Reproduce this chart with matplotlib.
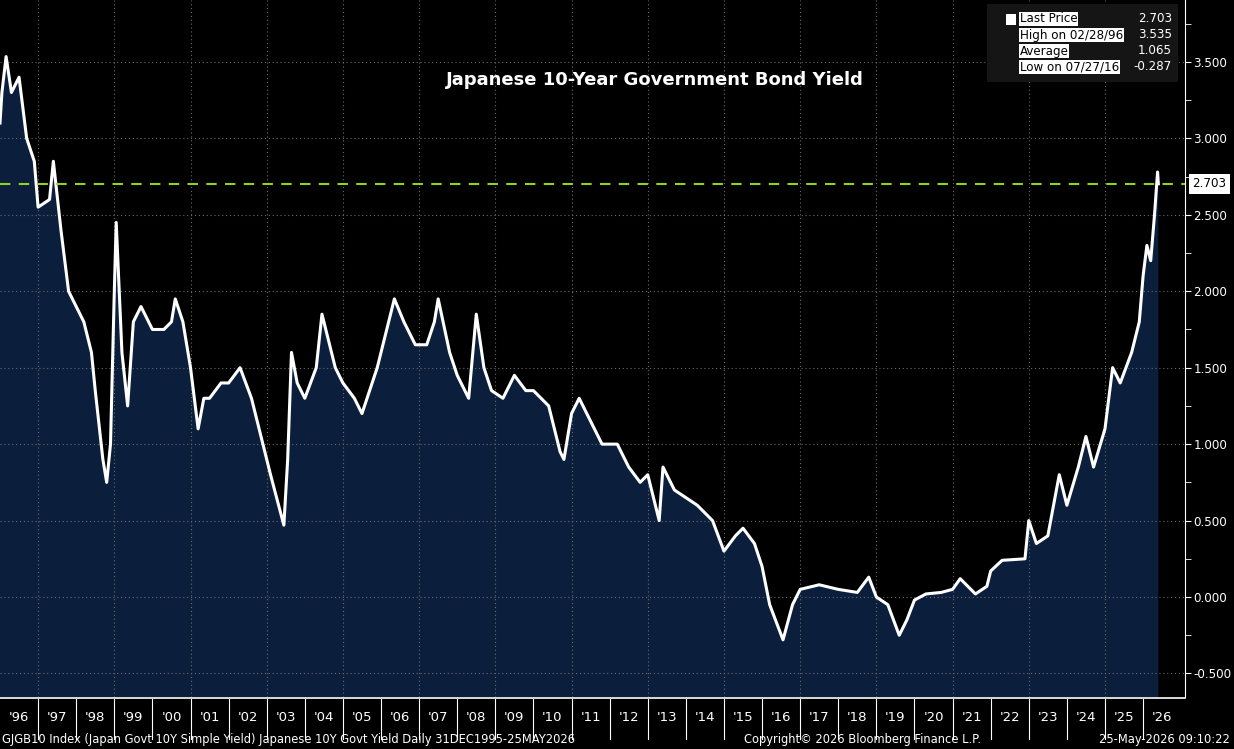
import matplotlib
matplotlib.use("Agg")
import matplotlib.pyplot as plt
import numpy as np
from matplotlib.lines import Line2D

years = [1996.0,1996.05,1996.16,1996.3,1996.5,1996.7,1996.9,1997.0,1997.3,1997.4,1997.6,1997.8,
 1998.0,1998.2,1998.4,1998.5,1998.7,1998.8,1998.9,1999.0,1999.05,1999.2,1999.35,1999.5,1999.7,
 2000.0,2000.3,2000.5,2000.6,2000.8,2001.0,2001.2,2001.35,2001.5,2001.8,2002.0,2002.3,2002.6,2002.9,
 2003.1,2003.45,2003.55,2003.65,2003.8,2004.0,2004.3,2004.45,2004.6,2004.8,2005.0,2005.3,2005.5,
 2005.7,2005.9,2006.2,2006.35,2006.6,2006.9,2007.2,2007.4,2007.5,2007.8,2008.0,2008.3,2008.5,
 2008.7,2008.9,2009.2,2009.5,2009.8,2010.0,2010.4,2010.7,2010.8,2011.0,2011.2,2011.5,2011.8,
 2012.2,2012.5,2012.8,2013.0,2013.3,2013.4,2013.7,2014.0,2014.3,2014.7,2015.0,2015.3,2015.5,
 2015.8,2016.0,2016.2,2016.55,2016.8,2017.0,2017.5,2018.0,2018.5,2018.8,2019.0,2019.3,2019.6,
 2019.8,2020.0,2020.3,2020.7,2021.0,2021.2,2021.6,2021.9,2022.0,2022.3,2022.9,2023.0,2023.2,
 2023.5,2023.8,2024.0,2024.3,2024.5,2024.7,2025.0,2025.2,2025.4,2025.7,2025.9,2026.0,2026.1,
 2026.2,2026.3,2026.38,2026.4]
yields = [3.10,3.30,3.535,3.30,3.40,3.00,2.85,2.55,2.60,2.85,2.40,2.00,
 1.90,1.80,1.60,1.35,0.90,0.75,1.00,2.00,2.45,1.60,1.25,1.80,1.90,
 1.75,1.75,1.80,1.95,1.80,1.50,1.10,1.30,1.30,1.40,1.40,1.50,1.30,1.00,
 0.80,0.47,0.90,1.60,1.40,1.30,1.50,1.85,1.70,1.50,1.40,1.30,1.20,
 1.35,1.50,1.80,1.95,1.80,1.65,1.65,1.80,1.95,1.60,1.45,1.30,1.85,
 1.50,1.35,1.30,1.45,1.35,1.35,1.25,0.95,0.90,1.20,1.30,1.15,1.00,
 1.00,0.85,0.75,0.80,0.50,0.85,0.70,0.65,0.60,0.50,0.30,0.40,0.45,
 0.35,0.20,-0.05,-0.28,-0.05,0.05,0.08,0.05,0.03,0.13,0.00,-0.05,-0.25,
 -0.15,-0.02,0.02,0.03,0.05,0.12,0.02,0.07,0.17,0.24,0.25,0.50,0.35,
 0.40,0.80,0.60,0.85,1.05,0.85,1.10,1.50,1.40,1.60,1.80,2.10,2.30,
 2.20,2.50,2.78,2.703]
ytick_vals = [-0.5,0.0,0.5,1.0,1.5,2.0,2.5,3.0,3.5]
year_labels = ["'%02d" % (y % 100) for y in range(1996, 2027)]
last_price = 2.703
YMIN, YMAX = -0.654, 3.905

fig = plt.figure(figsize=(12.34,7.49), dpi=100, facecolor='black')
ax = fig.add_axes([0, 52/749, 1185/1234, 697/749], facecolor='black')
ax.fill_between(years, yields, YMIN-1, color='#0b1f3d', lw=0)
ax.plot(years, yields, color='white', lw=2.2)
ax.axhline(last_price, color='#8fd21f', lw=1.5, ls=(0,(5,4)))
ax.set_xlim(1996.0, 2027.1)
ax.set_ylim(YMIN, YMAX)
ax.set_yticks(ytick_vals)
ax.set_yticks(np.arange(-0.25,3.9,0.5), minor=True)
ax.set_yticklabels(['%.3f' % v for v in ytick_vals])
ax.set_xticks(range(1997, 2027, 2))
ax.tick_params(axis='x', length=0, labelbottom=False)
ax.yaxis.tick_right()
ax.tick_params(axis='y', which='both', colors='white', length=4, direction='out', labelsize=8.6, pad=2)
ax.grid(True, which='major', color='#6a6a6a', ls=(0,(1,2.5)), lw=0.8)
for s in ['top','left','bottom']:
    ax.spines[s].set_visible(False)
ax.spines['right'].set_color('white')

trans = ax.get_xaxis_transform()
for i in range(1997, 2027):
    ax.add_line(Line2D([i, i], [-0.06, -0.003], transform=trans, color='white', lw=0.8, clip_on=False))
ax.add_line(Line2D([0, 1], [-0.002, -0.002], transform=ax.transAxes, color='white', lw=1.2, clip_on=False))
for i, lab in enumerate(year_labels):
    ax.text(1996 + i + 0.5, -0.03, lab, transform=trans, ha='center', va='center',
            color='white', fontsize=9.5, clip_on=False)

ax.text(0.553, 0.885, 'Japanese 10-Year Government Bond Yield', transform=ax.transAxes,
        ha='center', va='center', color='white', fontsize=13, fontweight='bold')

ax.text(1.006, (last_price-YMIN)/(YMAX-YMIN), '2.703', transform=ax.transAxes, ha='left', va='center',
        color='black', fontsize=8.6, bbox=dict(boxstyle='square,pad=0.3', fc='white', ec='none'), clip_on=False)

fig.patches.append(plt.Rectangle((987/1234, 1-82/749), 191/1234, 78/749, transform=fig.transFigure,
                                 fc='#151515', ec='none'))
rows = [('Last Price','2.703'),('High on 02/28/96','3.535'),('Average','1.065'),('Low on 07/27/16','-0.287')]
for k,(a,b) in enumerate(rows):
    yy = 1-(19+16*k)/749
    fig.text(1020/1234, yy, a, color='black', fontsize=8.6, va='center', ha='left',
             bbox=dict(boxstyle='square,pad=0.05', fc='white', ec='none'))
    fig.text(1172/1234, yy, b, color='white', fontsize=8.6, va='center', ha='right')
fig.patches.append(plt.Rectangle((1006/1234, 1-25/749), 10/1234, 11/749, transform=fig.transFigure, fc='white', ec='none'))

fig.text(2/1234, 9/749, 'GJGB10 Index (Japan Govt 10Y Simple Yield) Japanese 10Y Govt Yield Daily 31DEC1995-25MAY2026',
         color='white', fontsize=8.3, va='center', ha='left')
fig.text(862/1234, 9/749, 'Copyright\u00a9 2026 Bloomberg Finance L.P.', color='white', fontsize=8.3, va='center', ha='center')
fig.text(1230/1234, 9/749, '25-May-2026 09:10:22', color='white', fontsize=8.3, va='center', ha='right')
fig.savefig('out.png', dpi=100, facecolor='black')
